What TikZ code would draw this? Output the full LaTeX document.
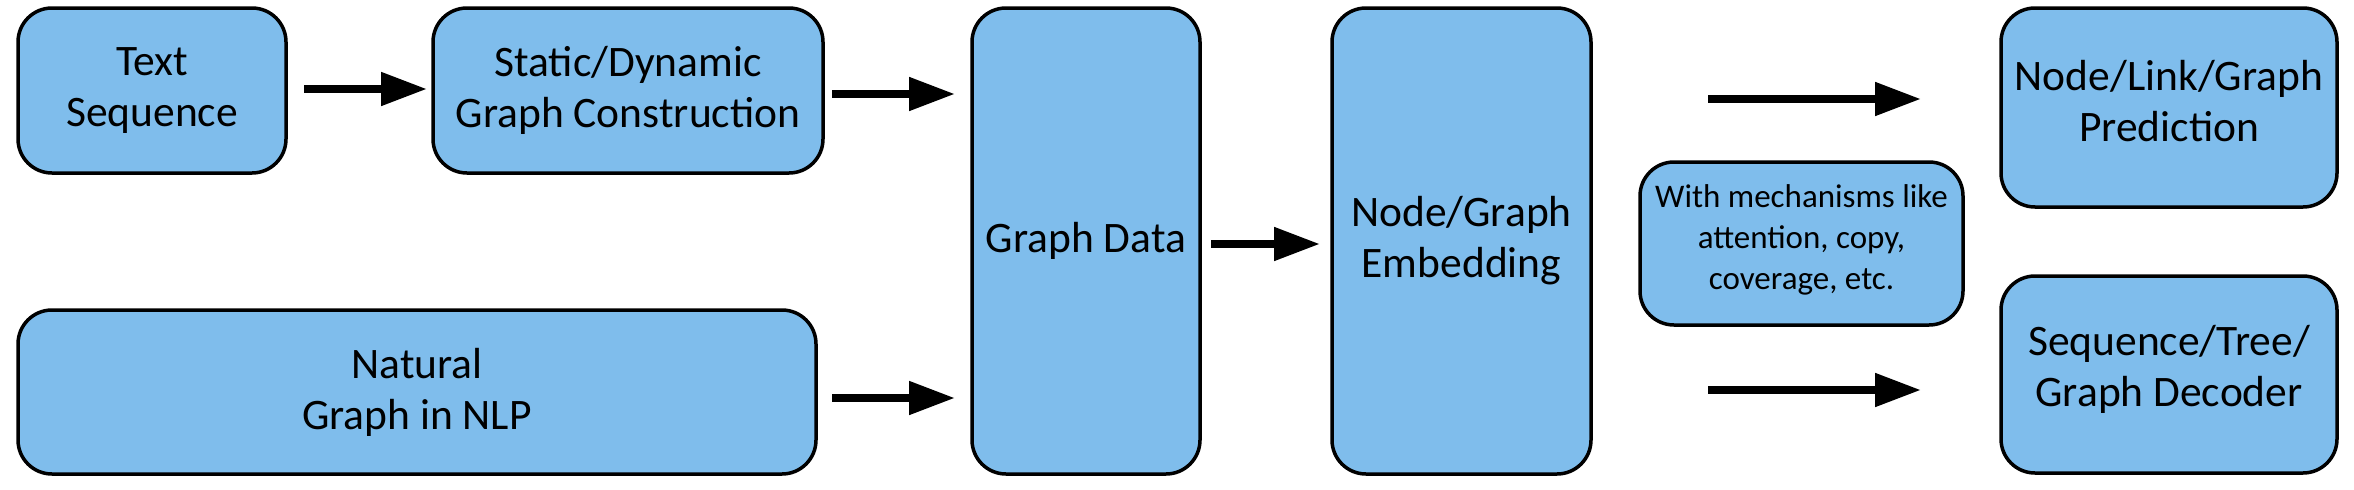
\documentclass[tikz,border=0pt]{standalone}
\usepackage{fontspec}
\setmainfont{Carlito}
\usetikzlibrary{arrows.meta}
\definecolor{boxblue}{RGB}{127,189,236}
\tikzset{
  blk/.style={draw=black, line width=3.5pt, fill=boxblue, rounded corners=34pt,
    align=center, inner sep=0pt, outer sep=0pt, font=\fontsize{43.5}{51}\selectfont},
  small/.style={font=\fontsize{33}{41}\selectfont},
  arr/.style={line width=8pt, -{Triangle[length=46pt,width=32pt]}}
}
\newcommand{\updepth}[1]{\rule[-#1]{0pt}{0pt}}
\begin{document}
\begin{tikzpicture}[x=1pt,y=-1pt]
\useasboundingbox (0,0) rectangle (2354,490);
\node[blk, minimum width=268pt, minimum height=165pt] (ts) at (152,90.5) {Text\\Sequence};
\node[blk, minimum width=390pt, minimum height=165pt] (sd) at (628,90.5) {Static/Dynamic\\Graph Construction};
\node[blk, minimum width=798pt, minimum height=164pt] (nat) at (417,392) {Natural\\Graph in NLP};
\node[blk, minimum width=228pt, minimum height=466pt] (gd) at (1086,241) {Graph Data};
\node[blk, minimum width=259pt, minimum height=466pt] (emb) at (1461.5,241) {Node/Graph\\Embedding};
\node[blk, small, minimum width=323pt, minimum height=163pt] (mech) at (1801.5,243.5) {With mechanisms like\\attention, copy,\\coverage, etc.\updepth{12pt}};
\node[blk, minimum width=336pt, minimum height=199pt] (pred) at (2169,107.5) {Node/Link/Graph\\Prediction\updepth{13pt}};
\node[blk, minimum width=336pt, minimum height=197pt] (dec) at (2169,374.5) {Sequence/Tree/\\Graph Decoder\updepth{17pt}};
\draw[arr, shorten <=18pt, shorten >=6pt] (ts.east |- 0,89) -- (sd.west |- 0,89);
\draw[arr, shorten <=9pt, shorten >=17pt] (sd.east |- 0,94) -- (gd.west |- 0,94);
\draw[arr, shorten <=16pt, shorten >=17pt] (nat.east |- 0,398) -- (gd.west |- 0,398);
\draw[arr, shorten <=11pt, shorten >=12pt] (gd.east |- 0,244) -- (emb.west |- 0,244);
\draw[arr, shorten <=117pt, shorten >=80pt] (emb.east |- 0,99) -- (pred.west |- 0,99);
\draw[arr, shorten <=117pt, shorten >=80pt] (emb.east |- 0,390) -- (dec.west |- 0,390);
\end{tikzpicture}
\end{document}
